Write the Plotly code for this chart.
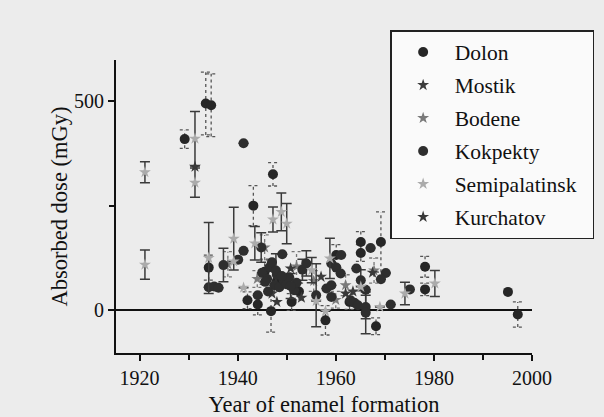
import plotly.graph_objects as go

# ---- data (year of enamel formation, absorbed dose mGy, error mGy) ----
dolon_year = [1929.2, 1933.5, 1934.6, 1947.2, 1943.2, 1946.8, 1957.9, 1969.2, 1978.2, 1997.1,
              1965.1, 1965.1, 1960.1, 1968.2, 1934.1, 1942.0, 1944.1, 1951.0, 1978.2, 1995.1,
              1945.5, 1948.0, 1952.5, 1962.8]
dolon_dose = [409, 494, 490, 325, 250, -2, -24, 163, 104, -10,
              163, 137, 132, -38, 102, 24, 14, 20, 50, 44,
              92, 70, 45, 20]
dolon_err = [22, 75, 75, 28, 48, 50, 35, 72, 25, 30,
             25, 20, 25, 20, 30, 20, 25, 20, 15, None,
             30, 25, 20, 18]

kok_year = [1941.2, 1934.1, 1935.2, 1936.1, 1937.1, 1940.1, 1941.2, 1944.1, 1945.0, 1946.0,
            1946.5, 1947.5, 1948.0, 1948.5, 1949.1, 1949.5, 1950.0, 1950.5, 1951.5, 1952.0,
            1953.2, 1954.0, 1956.0, 1958.1, 1959.1, 1959.1, 1959.1, 1960.1, 1961.0, 1961.1,
            1964.2, 1965.1, 1966.1, 1963.0, 1963.8, 1964.5, 1966.1, 1966.1, 1967.1, 1970.2,
            1969.2, 1975.1, 1971.2, 1944.8, 1947.0, 1946.2, 1947.8, 1949.0, 1950.8, 1945.6]
kok_dose = [399, 55, 57, 54, 108, 121, 142, 36, 90, 75,
            103, 60, 85, 55, 134, 70, 62, 79, 48, 66,
            97, 112, 36, 52, 60, 32, 112, 102, 88, 132,
            100, 72, 49, 24, 18, 12, 8, -6, 149, 89,
            74, 50, 14, 150, 115, 45, 95, 82, 58, 68]
kok_err = [None, None, None, None, 40, None, None, None, None, None,
           None, None, None, None, None, None, None, None, None, None,
           25, 30, 75, None, None, None, None, None, None, None,
           None, 25, None, None, None, None, 28, 50, None, None,
           None, None, None, 35, None, None, 40, None, 30, None]

semi_year = [1921.1, 1921.1, 1931.3, 1931.3, 1934.1, 1939.2, 1939.2, 1941.2, 1948.9, 1950.0,
             1947.2, 1955.1, 1956.0, 1957.9, 1958.8, 1965.1, 1969.0, 1974.1, 1980.2, 1943.5]
semi_dose = [330, 109, 410, 305, 125, 171, 117, 54, 235, 207,
             217, 96, 22, -2, 124, 56, 8, 40, 64, 160]
semi_err = [25, 35, 65, 35, 85, 75, None, None, 45, 48,
            30, 30, None, None, 48, None, None, 27, 31, 40]

bod_year = [1944.0, 1945.5, 1952.0, 1960.0, 1962.0, 1938.0, 1955.5, 1967.8]
bod_dose = [75, 150, 105, 25, 60, 110, 70, 95]
bod_err = [20, 30, 35, 20, 25, 30, 25, 30]

mos_year = [1931.3, 1947.0, 1953.0, 1957.0, 1963.5]
mos_dose = [343, 40, 30, 80, 45]

kur_year = [1948.0, 1962.0, 1967.5, 1950.8]
kur_dose = [20, 40, 90, 100]

x_ticks = [1920, 1940, 1960, 1980, 2000]
y_ticks = [0, 500]

FONT = "Liberation Serif"
BG = "#ececec"
PAD = "\u00a0\u00a0"  # keeps the legend box as wide as in the reference


def dotted_bars(xs, ys, es, half=1.0):
    bx, by = [], []
    for x, y, e in zip(xs, ys, es):
        if e is None:
            continue
        bx += [x, x, None, x - half, x + half, None, x - half, x + half, None]
        by += [y - e, y + e, None, y - e, y - e, None, y + e, y + e, None]
    return bx, by


fig = go.Figure()

# dotted error bars (Dolon, Bodene)
for xs, ys, es, col in [(dolon_year, dolon_dose, dolon_err, "#555555"),
                        (bod_year, bod_dose, bod_err, "#777777")]:
    bx, by = dotted_bars(xs, ys, es)
    fig.add_trace(go.Scatter(x=bx, y=by, mode="lines", showlegend=False, hoverinfo="skip",
                             line=dict(color=col, width=1.3, dash="dot")))

solid_err = dict(type="data", thickness=1.5, width=5)

series = [
    ("Dolon", dolon_year, dolon_dose, None, "circle", "#262626"),
    ("Mostik", mos_year, mos_dose, None, "star", "#3c3c3c"),
    ("Bodene", bod_year, bod_dose, None, "star", "#7a7a7a"),
    ("Kokpekty", kok_year, kok_dose, kok_err, "circle", "#2e2e2e"),
    ("Semipalatinsk", semi_year, semi_dose, semi_err, "star", "#ababab"),
    ("Kurchatov", kur_year, kur_dose, None, "star", "#383838"),
]
for name, xs, ys, es, sym, col in series:
    kw = {}
    if es is not None:
        kw["error_y"] = dict(array=es, color="#3a3a3a", **solid_err)
    label = name + PAD if name == "Semipalatinsk" else name
    fig.add_trace(go.Scatter(x=xs, y=ys, mode="markers", name=label, legendgroup=name,
                             marker=dict(symbol=sym, size=10 if sym == "circle" else 9,
                                         color=col), **kw))

fig.update_layout(
    width=604, height=417,
    margin=dict(l=116, r=72, t=60, b=64, autoexpand=False),
    paper_bgcolor=BG, plot_bgcolor=BG,
    font=dict(family=FONT, size=20, color="#111111"),
    legend=dict(x=0.659, y=1.102, xanchor="left", yanchor="top",
                bgcolor="#fafafa", bordercolor="#222222", borderwidth=1.5,
                font=dict(family=FONT, size=21.5), traceorder="grouped", tracegroupgap=2,
                itemwidth=53, maxheight=400),
    xaxis=dict(range=[1915.2, 2000], tickvals=x_ticks, showgrid=False, zeroline=False,
               showline=True, linecolor="#111111", linewidth=2,
               tickfont=dict(family=FONT, size=20),
               ticks="outside", ticklen=6, tickwidth=2, tickcolor="#111111",
               minor=dict(dtick=10, tick0=1920, ticks="outside", ticklen=5, tickwidth=1.5,
                          tickcolor="#111111"),
               title=dict(text="Year of enamel formation", standoff=9,
                          font=dict(family=FONT, size=22.5))),
    yaxis=dict(range=[-102, 598], tickvals=y_ticks, showgrid=False,
               zeroline=True, zerolinecolor="#111111", zerolinewidth=1.5,
               showline=True, linecolor="#111111", linewidth=2,
               tickfont=dict(family=FONT, size=20),
               ticks="outside", ticklen=6, tickwidth=2, tickcolor="#111111",
               minor=dict(tickvals=[250], ticks="outside", ticklen=5, tickwidth=1.5,
                          tickcolor="#111111"),
               title=dict(text="Absorbed dose (mGy)", standoff=0,
                          font=dict(family=FONT, size=22.5))),
)

fig.write_html("out.html", config={"displayModeBar": False},
               post_script="document.body.style.margin='0';document.body.style.background='%s';" % BG)
